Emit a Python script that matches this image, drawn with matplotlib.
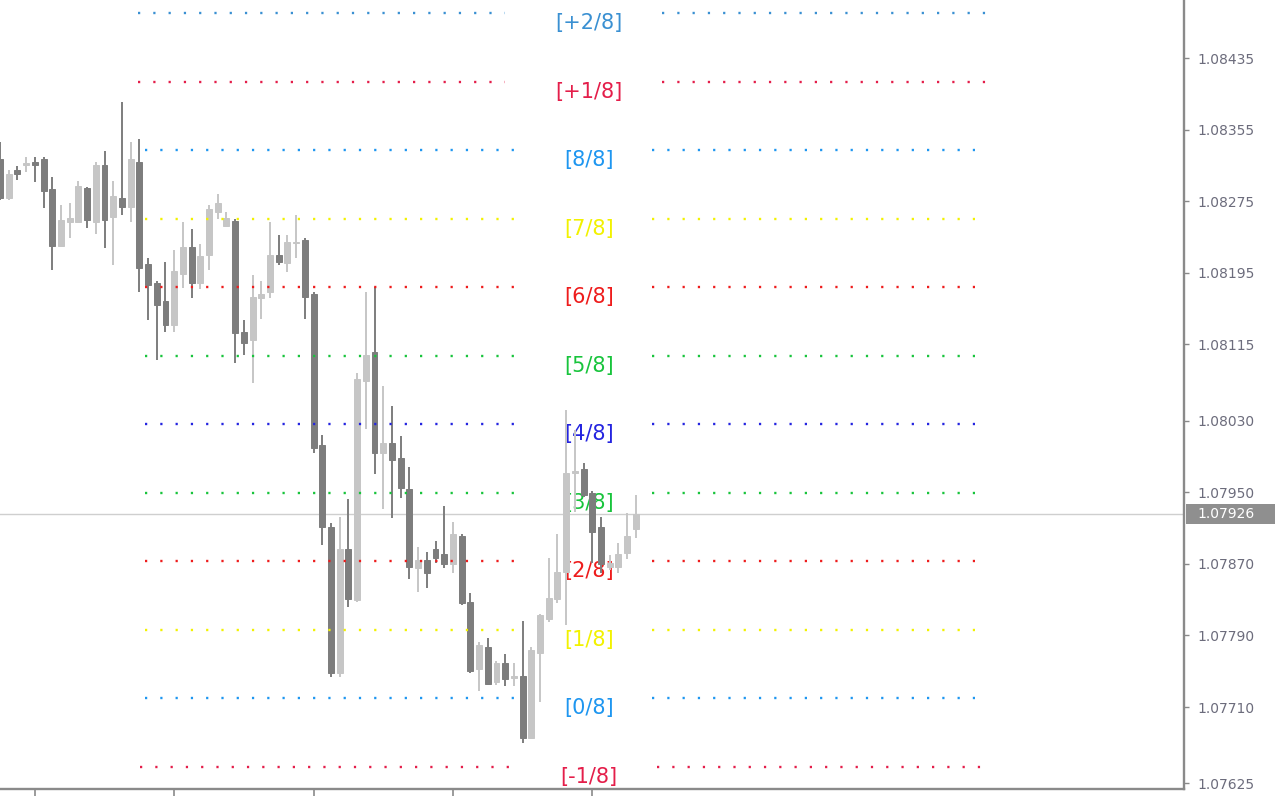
import numpy as np
import matplotlib
matplotlib.use("Agg")
import matplotlib.pyplot as plt
from matplotlib.patches import Rectangle
import matplotlib.transforms as mtransforms

# ---------------- data ----------------
opens = [1.08322, 1.08279, 1.08310, 1.08315, 1.08319, 1.08322, 1.08289, 1.08225, 1.08252, 1.08252,
         1.08290, 1.08252, 1.08315, 1.08257, 1.08279, 1.08269, 1.08319, 1.08205, 1.08184, 1.08164,
         1.08137, 1.08194, 1.08224, 1.08184, 1.08215, 1.08263, 1.08247, 1.08253, 1.08129, 1.08120,
         1.08167, 1.08174, 1.08215, 1.08206, 1.08228, 1.08232, 1.08171, 1.08003, 1.07911, 1.07748,
         1.07887, 1.07830, 1.08074, 1.08107, 1.07994, 1.08005, 1.07988, 1.07954, 1.07865, 1.07874,
         1.07887, 1.07881, 1.07870, 1.07901, 1.07827, 1.07752, 1.07777, 1.07738, 1.07759, 1.07742,
         1.07745, 1.07675, 1.07770, 1.07808, 1.07831, 1.07861, 1.07971, 1.07976, 1.07949, 1.07911,
         1.07866, 1.07866, 1.07882, 1.07909]
highs = [1.08341, 1.08310, 1.08314, 1.08324, 1.08324, 1.08324, 1.08302, 1.08271, 1.08273, 1.08298,
         1.08291, 1.08319, 1.08331, 1.08298, 1.08386, 1.08341, 1.08345, 1.08212, 1.08186, 1.08207,
         1.08221, 1.08252, 1.08244, 1.08227, 1.08271, 1.08283, 1.08263, 1.08255, 1.08142, 1.08193,
         1.08186, 1.08252, 1.08237, 1.08237, 1.08260, 1.08234, 1.08174, 1.08014, 1.07916, 1.07922,
         1.07942, 1.08083, 1.08174, 1.08179, 1.08069, 1.08046, 1.08013, 1.07978, 1.07889, 1.07883,
         1.07895, 1.07935, 1.07917, 1.07903, 1.07837, 1.07783, 1.07787, 1.07761, 1.07769, 1.07759,
         1.07806, 1.07777, 1.07814, 1.07876, 1.07903, 1.08042, 1.08019, 1.07983, 1.07951, 1.07922,
         1.07880, 1.07893, 1.07927, 1.07947]
lows = [1.08276, 1.08276, 1.08299, 1.08308, 1.08296, 1.08267, 1.08198, 1.08224, 1.08234, 1.08251,
        1.08245, 1.08238, 1.08223, 1.08204, 1.08260, 1.08252, 1.08174, 1.08142, 1.08098, 1.08129,
        1.08129, 1.08178, 1.08167, 1.08177, 1.08198, 1.08255, 1.08246, 1.08094, 1.08103, 1.08072,
        1.08143, 1.08167, 1.08204, 1.08196, 1.08212, 1.08143, 1.07994, 1.07891, 1.07744, 1.07744,
        1.07822, 1.07827, 1.08021, 1.07970, 1.07931, 1.07921, 1.07943, 1.07853, 1.07838, 1.07843,
        1.07871, 1.07865, 1.07860, 1.07824, 1.07748, 1.07728, 1.07735, 1.07735, 1.07733, 1.07733,
        1.07670, 1.07674, 1.07716, 1.07805, 1.07826, 1.07802, 1.07928, 1.07945, 1.07871, 1.07860,
        1.07863, 1.07860, 1.07875, 1.07899]
closes = [1.08279, 1.08305, 1.08305, 1.08318, 1.08315, 1.08286, 1.08225, 1.08254, 1.08256, 1.08292,
          1.08254, 1.08315, 1.08254, 1.08281, 1.08269, 1.08322, 1.08200, 1.08181, 1.08159, 1.08137,
          1.08197, 1.08224, 1.08184, 1.08214, 1.08266, 1.08273, 1.08256, 1.08128, 1.08117, 1.08168,
          1.08171, 1.08215, 1.08207, 1.08229, 1.08229, 1.08168, 1.07999, 1.07911, 1.07748, 1.07887,
          1.07831, 1.08076, 1.08103, 1.07994, 1.08005, 1.07986, 1.07955, 1.07866, 1.07874, 1.07860,
          1.07876, 1.07870, 1.07903, 1.07826, 1.07750, 1.07779, 1.07736, 1.07759, 1.07741, 1.07745,
          1.07675, 1.07774, 1.07813, 1.07832, 1.07861, 1.07971, 1.07974, 1.07947, 1.07906, 1.07870,
          1.07871, 1.07881, 1.07901, 1.07926]

level_names = ["[+2/8]", "[+1/8]", "[8/8]", "[7/8]", "[6/8]", "[5/8]", "[4/8]",
               "[3/8]", "[2/8]", "[1/8]", "[0/8]", "[-1/8]"]
level_prices = [1.08485, 1.084085, 1.08332, 1.082555, 1.08179, 1.081025, 1.08026,
                1.079495, 1.07873, 1.077965, 1.07720, 1.076435]
level_colors = ["#3a90d2", "#e41e4a", "#1e96f0", "#f2f200", "#ee1c1c", "#18c43c", "#2424e0",
                "#18c43c", "#ee1c1c", "#f2f200", "#1e96f0", "#e41e4a"]

y_ticks = [1.08435, 1.08355, 1.08275, 1.08195, 1.08115, 1.08030, 1.07950,
           1.07870, 1.07790, 1.07710, 1.07625]
y_tick_labels = ["1.08435", "1.08355", "1.08275", "1.08195", "1.08115", "1.08030", "1.07950",
                 "1.07870", "1.07790", "1.07710", "1.07625"]
x_ticks = [4, 20, 36, 52, 68]
last_price = 1.07926
last_label = "1.07926"

# ---------------- styling / layout ----------------
plt.rcParams["font.family"] = ["DejaVu Sans"]
plt.rcParams["lines.scale_dashes"] = False

W, H = 1280, 800
fig = plt.figure(figsize=(W / 100, H / 100), dpi=100)
fig.patch.set_facecolor("white")
ax_right_px = 1184
ax_bottom_px = 11
ax = fig.add_axes([0, ax_bottom_px / H, ax_right_px / W, (H - ax_bottom_px) / H])
ax.set_facecolor("white")

bar_px = 8.71
y_lo, y_hi = 1.076184, 1.084998
ax.set_xlim(0, ax_right_px / bar_px)
ax.set_ylim(y_lo, y_hi)

# spines
for s in ["left", "top"]:
    ax.spines[s].set_visible(False)
for s in ["right", "bottom"]:
    ax.spines[s].set_color("#8a8a8a")
    ax.spines[s].set_linewidth(1.7)

ax.yaxis.tick_right()
ax.set_yticks(y_ticks)
ax.set_yticklabels(y_tick_labels)
ax.tick_params(axis="y", which="both", direction="out", length=3.5, width=1.0,
               color="#8a8a8a", pad=6.5, labelsize=10, labelcolor="#6c6c7c")
ax.set_xticks(x_ticks)
ax.set_xticklabels([])
ax.tick_params(axis="x", direction="out", length=5, width=1.2, color="#8a8a8a")

# current price line
ax.axhline(last_price, color="#cfcfcf", lw=1.0, zorder=1)

# Murrey level labels (behind candles)
label_x = 67.6
for name, price, col in zip(level_names, level_prices, level_colors):
    ax.text(label_x, price, name, color=col, fontsize=15, ha="center", va="top",
            zorder=1.5)

# candles
o = np.array(opens); h = np.array(highs); l = np.array(lows); c = np.array(closes)
x = np.arange(len(o))
bull = c >= o
cols = np.where(bull, "#c6c6c6", "#7d7d7d")
ax.vlines(x, l, h, colors=cols, lw=1.4, zorder=2)
ax.bar(x, c - o, bottom=o, width=0.68, color=cols, edgecolor=cols, linewidth=0.7, zorder=3)

# dotted level segments (in bar-index units)
segments = [
    [(15.8, 58.0), (76.0, 113.4)],
    [(15.8, 58.0), (76.0, 113.4)],
    [(16.6, 59.1), (74.9, 111.9)],
    [(16.6, 59.1), (74.9, 111.9)],
    [(16.6, 59.1), (74.9, 111.9)],
    [(16.6, 59.1), (74.9, 111.9)],
    [(16.6, 59.1), (74.9, 111.9)],
    [(16.6, 59.1), (74.9, 111.9)],
    [(16.6, 59.1), (74.9, 111.9)],
    [(16.6, 59.1), (74.9, 111.9)],
    [(16.6, 59.1), (74.9, 111.9)],
    [(16.1, 58.6), (75.4, 112.7)],
]
for price, col, segs in zip(level_prices, level_colors, segments):
    for (a, b) in segs:
        ax.plot([a, b], [price, price], color=col, lw=1.7, dashes=(1.6, 9.4),
                dash_capstyle="butt", zorder=4)

# last price box on the axis
px_to_price = (y_hi - y_lo) / (H - ax_bottom_px)
trans = mtransforms.blended_transform_factory(fig.transFigure, ax.transData)
rect = Rectangle((1186 / W, last_price - 10 * px_to_price), (1275 - 1186) / W, 20 * px_to_price,
                 transform=trans, facecolor="#8f8f8f", edgecolor="none", clip_on=False, zorder=5)
ax.add_patch(rect)
ax.text(1197 / W, last_price, last_label, transform=trans, color="white", fontsize=10,
        ha="left", va="center", zorder=6, clip_on=False)

fig.savefig("out.png", dpi=100, facecolor="white")
